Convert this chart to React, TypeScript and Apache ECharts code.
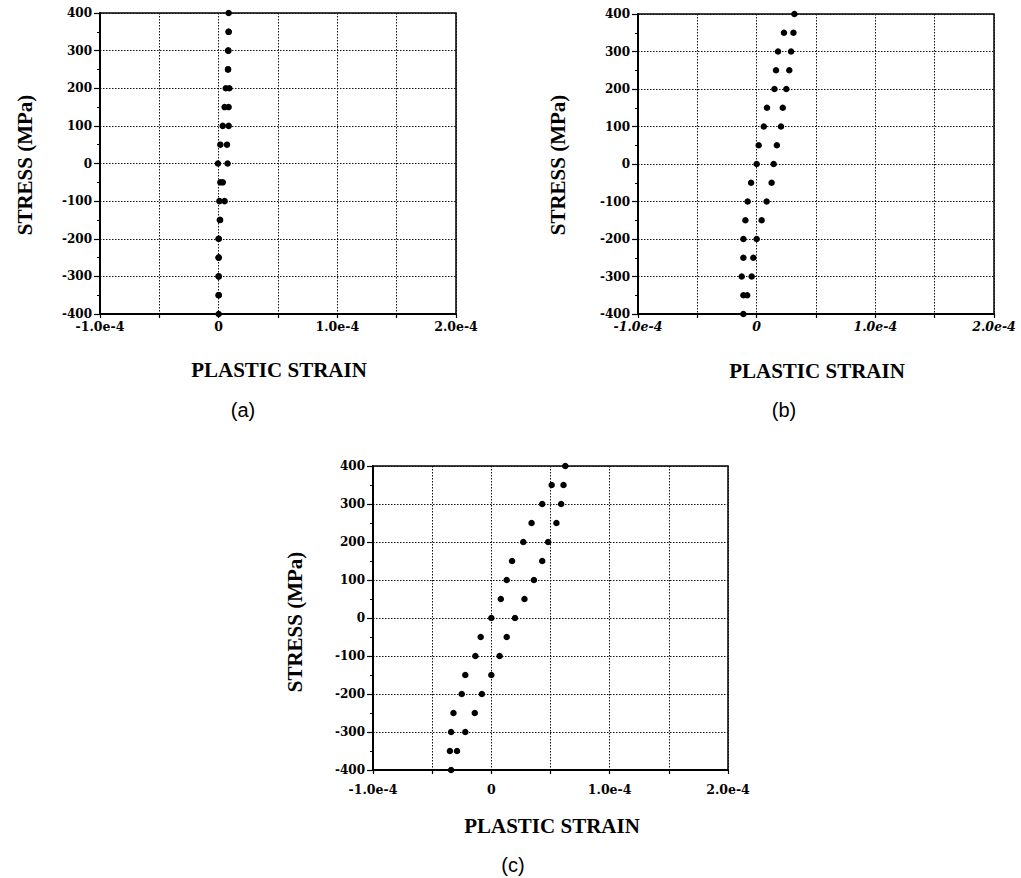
import React, { useEffect, useRef } from "react";
import * as echarts from "echarts";

// Stress levels (MPa): loading branch from -400 up to 400, unloading branch from 350 back down to -350
const loadStress = [-400, -350, -300, -250, -200, -150, -100, -50, 0, 50, 100, 150, 200, 250, 300, 350, 400];
const unloadStress = [350, 300, 250, 200, 150, 100, 50, 0, -50, -100, -150, -200, -250, -300, -350];

// Plastic strain, panel (a)
const strainALoad = [0, 0, 0, 0, 0, 0.012e-4, 0.006e-4, 0.014e-4, -0.006e-4, 0.014e-4, 0.034e-4, 0.05e-4, 0.06e-4, 0.079e-4, 0.079e-4, 0.084e-4, 0.084e-4];
const strainAUnload = [0.084e-4, 0.082e-4, 0.079e-4, 0.09e-4, 0.084e-4, 0.084e-4, 0.07e-4, 0.075e-4, 0.035e-4, 0.05e-4, 0.01e-4, 0, 0, 0, 0];

// Plastic strain, panel (b)
const strainBLoad = [-0.112e-4, -0.112e-4, -0.126e-4, -0.112e-4, -0.112e-4, -0.095e-4, -0.076e-4, -0.047e-4, 0, 0.017e-4, 0.06e-4, 0.087e-4, 0.15e-4, 0.163e-4, 0.18e-4, 0.23e-4, 0.318e-4];
const strainBUnload = [0.31e-4, 0.29e-4, 0.275e-4, 0.25e-4, 0.22e-4, 0.205e-4, 0.17e-4, 0.143e-4, 0.126e-4, 0.084e-4, 0.042e-4, 0, -0.028e-4, -0.042e-4, -0.08e-4];

// Plastic strain, panel (c)
const strainCLoad = [-0.34e-4, -0.35e-4, -0.34e-4, -0.32e-4, -0.25e-4, -0.22e-4, -0.135e-4, -0.09e-4, 0, 0.08e-4, 0.13e-4, 0.175e-4, 0.27e-4, 0.34e-4, 0.43e-4, 0.51e-4, 0.625e-4];
const strainCUnload = [0.61e-4, 0.59e-4, 0.55e-4, 0.48e-4, 0.43e-4, 0.36e-4, 0.28e-4, 0.2e-4, 0.13e-4, 0.07e-4, 0, -0.08e-4, -0.14e-4, -0.22e-4, -0.29e-4];

// Axis tick labels
const strainTickLabels = ["-1.0e-4", "", "0", "", "1.0e-4", "", "2.0e-4"];
const stressTickLabels = ["-400", "-300", "-200", "-100", "0", "100", "200", "300", "400"];

const panels = [
  {
    label: "(a)", load: strainALoad, unload: strainAUnload, italic: false,
    grid: { left: 100, top: 13, width: 356, height: 301 }, xMargin: 6,
    yName: [25, 165], xName: [279, 370], tag: [243, 410],
  },
  {
    label: "(b)", load: strainBLoad, unload: strainBUnload, italic: true,
    grid: { left: 638, top: 14, width: 356, height: 300 }, xMargin: 6,
    yName: [558, 165], xName: [817, 371], tag: [784, 410],
  },
  {
    label: "(c)", load: strainCLoad, unload: strainCUnload, italic: false,
    grid: { left: 373, top: 466, width: 355, height: 304 }, xMargin: 13,
    yName: [295, 622], xName: [552, 826], tag: [513, 865],
  },
];

const serif = "Liberation Serif";
const tickFont = "DejaVu Serif";
const dots: number[] = [1.5, 1.5];

export default function App() {
  const ref = useRef<HTMLDivElement>(null);

  useEffect(() => {
    if (!ref.current) return;
    const chart = echarts.init(ref.current, undefined, { renderer: "svg" });

    const grids = panels.map((p) => ({
      ...p.grid,
      show: true,
      borderColor: "#000",
      borderWidth: 1.5,
      containLabel: false,
    }));

    const xAxes = panels.map((p, i) => ({
      gridIndex: i,
      type: "value",
      min: -1e-4,
      max: 2e-4,
      interval: 0.5e-4,
      axisLine: { show: true, onZero: false, lineStyle: { color: "#000", width: 2 } },
      axisTick: { show: true, length: 4, lineStyle: { color: "#000", width: 1.2 } },
      axisLabel: {
        formatter: (_v: number, idx: number) => strainTickLabels[idx] ?? "",
        fontFamily: tickFont,
        fontWeight: "bold",
        fontStyle: p.italic ? "italic" : "normal",
        fontSize: 12.5,
        color: "#000",
        margin: p.xMargin,
      },
      splitLine: { show: true, lineStyle: { color: "#111", width: 1, type: dots } },
    }));

    const yAxes = panels.map((_p, i) => ({
      gridIndex: i,
      type: "value",
      min: -400,
      max: 400,
      interval: 100,
      axisLine: { show: true, onZero: false, lineStyle: { color: "#000", width: 2 } },
      axisTick: { show: true, length: 6, lineStyle: { color: "#000", width: 1.2 } },
      minorTick: { show: true, splitNumber: 2, length: 3, lineStyle: { color: "#000", width: 1 } },
      axisLabel: {
        formatter: (_v: number, idx: number) => stressTickLabels[idx] ?? "",
        fontFamily: tickFont,
        fontWeight: "bold",
        fontSize: 12,
        color: "#000",
        margin: 8,
      },
      splitLine: { show: true, lineStyle: { color: "#111", width: 1, type: dots } },
    }));

    const series = panels.map((p, i) => ({
      type: "scatter",
      xAxisIndex: i,
      yAxisIndex: i,
      symbol: "circle",
      symbolSize: 6.5,
      itemStyle: { color: "#000", opacity: 1 },
      data: [
        ...loadStress.map((s, k) => [p.load[k], s]),
        ...unloadStress.map((s, k) => [p.unload[k], s]),
      ],
    }));

    const texts: any[] = [];
    panels.forEach((p) => {
      texts.push({
        type: "text",
        x: p.yName[0],
        y: p.yName[1],
        rotation: Math.PI / 2,
        style: {
          text: "STRESS (MPa)",
          font: `bold 21px "${serif}"`,
          fill: "#000",
          textAlign: "center",
          textVerticalAlign: "middle",
        },
      });
      texts.push({
        type: "text",
        x: p.xName[0],
        y: p.xName[1],
        style: {
          text: "PLASTIC STRAIN",
          font: `bold 21px "${serif}"`,
          fill: "#000",
          textAlign: "center",
          textVerticalAlign: "middle",
        },
      });
      texts.push({
        type: "text",
        x: p.tag[0],
        y: p.tag[1],
        style: {
          text: p.label,
          font: `20px "Liberation Sans"`,
          fill: "#000",
          textAlign: "center",
          textVerticalAlign: "middle",
        },
      });
    });

    chart.setOption({
      animation: false,
      backgroundColor: "#fff",
      grid: grids,
      xAxis: xAxes,
      yAxis: yAxes,
      series,
      graphic: texts,
    } as any);

    return () => chart.dispose();
  }, []);

  return (
    <div
      ref={ref}
      style={{ position: "absolute", left: 0, top: 0, width: 1021, height: 878 }}
    />
  );
}
